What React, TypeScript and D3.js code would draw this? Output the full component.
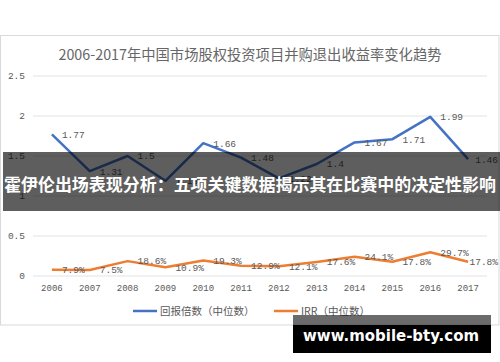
import React from "react";
import * as d3 from "d3";

const years = ["2006","2007","2008","2009","2010","2011","2012","2013","2014","2015","2016","2017"];
const multiple = [1.77, 1.31, 1.5, 1.19, 1.66, 1.48, 1.22, 1.4, 1.67, 1.71, 1.99, 1.46];
const irr = [0.079, 0.075, 0.186, 0.109, 0.193, 0.129, 0.121, 0.176, 0.241, 0.178, 0.297, 0.178];
const yTicks = [0, 0.5, 1, 1.5, 2, 2.5];
const seriesNames = ["回报倍数（中位数）", "IRR（中位数）"];
const title = "2006-2017年中国市场股权投资项目并购退出收益率变化趋势";
const banner = "霍伊伦出场表现分析：五项关键数据揭示其在比赛中的决定性影响";
const watermark = "www.mobile-bty.com";

const BLUE = "#4472C4";
const ORANGE = "#ED7D31";
const TXT = "#595959";
const NUMFONT = "'Liberation Mono', 'DejaVu Sans Mono', monospace";
const CJK = "'Noto Sans CJK SC', sans-serif";

export default function App() {
  const x = d3.scaleBand<string>().domain(years).range([33, 487]);
  const y = d3.scaleLinear().domain([0, 2.5]).range([276, 76]);
  const cx = (yr: string) => (x(yr) as number) + x.bandwidth() / 2;
  const line = d3.line<number>().x((_, i) => cx(years[i])).y((d) => y(d));

  const labelX = (i: number, txt: string) => {
    const w = txt.length * 5.7;
    const px = cx(years[i]) + 10;
    return Math.min(px, 498 - w);
  };

  return (
    <svg width={500} height={362} style={{ position: "absolute", left: 0, top: 0, background: "#fff" }}>
      <rect x={0.5} y={35.5} width={498.5} height={289.5} fill="#fff" stroke="#d9d9d9" />
      <text x={250} y={60} textAnchor="middle" fontFamily={CJK} fontSize={14.5} fill="#666" textLength={383} lengthAdjust="spacingAndGlyphs">{title}</text>
      {yTicks.map((t) => (
        <g key={t}>
          <line x1={33} x2={487} y1={y(t)} y2={y(t)} stroke="#e3e3e3" strokeWidth={1} />
          <text x={25} y={y(t)} dy="0.35em" textAnchor="end" fontFamily={NUMFONT} fontSize={9.5} fill={TXT}>{String(t)}</text>
        </g>
      ))}
      {years.map((yr) => (
        <text key={yr} x={cx(yr)} y={291} textAnchor="middle" fontFamily={NUMFONT} fontSize={9} fill={TXT}>{yr}</text>
      ))}
      <path d={line(multiple) || ""} fill="none" stroke={BLUE} strokeWidth={2.5} strokeLinejoin="round" />
      <path d={line(irr) || ""} fill="none" stroke={ORANGE} strokeWidth={2.5} strokeLinejoin="round" />
      {multiple.map((v, i) => {
        const t = String(v);
        return (
          <text key={"m" + i} x={labelX(i, t)} y={y(v)} dy="0.35em" fontFamily={NUMFONT} fontSize={9.5} fill={TXT}>{t}</text>
        );
      })}
      {irr.map((v, i) => {
        const t = (v * 100).toFixed(1) + "%";
        return (
          <text key={"r" + i} x={labelX(i, t)} y={y(v)} dy="0.35em" fontFamily={NUMFONT} fontSize={9.5} fill={TXT}>{t}</text>
        );
      })}
      <line x1={133} x2={157} y1={311} y2={311} stroke={BLUE} strokeWidth={2.5} />
      <text x={160} y={311} dy="0.35em" fontFamily={CJK} fontSize={10.5} fill={TXT}>{seriesNames[0]}</text>
      <line x1={274} x2={298} y1={311} y2={311} stroke={ORANGE} strokeWidth={2.5} />
      <text x={301} y={311} dy="0.35em" fontFamily={CJK} fontSize={10.5} fill={TXT}>{seriesNames[1]}</text>

      <rect x={3} y={152} width={497} height={59} fill="#000" fillOpacity={0.63} />
      <text x={250} y={185} dy="0.35em" textAnchor="middle" fontFamily={CJK} fontWeight={700} fontSize={17} fill="#fff" textLength={492} lengthAdjust="spacingAndGlyphs">{banner}</text>

      <rect x={293} y={315} width={198} height={10} fill="#000" fillOpacity={0.58} />
      <rect x={293} y={325} width={198} height={28} fill="#000" />
      <text x={391} y={341} textAnchor="middle" fontFamily="'DejaVu Sans', sans-serif" fontWeight={700} fontSize={16} fill="#fff" textLength={176} lengthAdjust="spacingAndGlyphs">{watermark}</text>
    </svg>
  );
}
